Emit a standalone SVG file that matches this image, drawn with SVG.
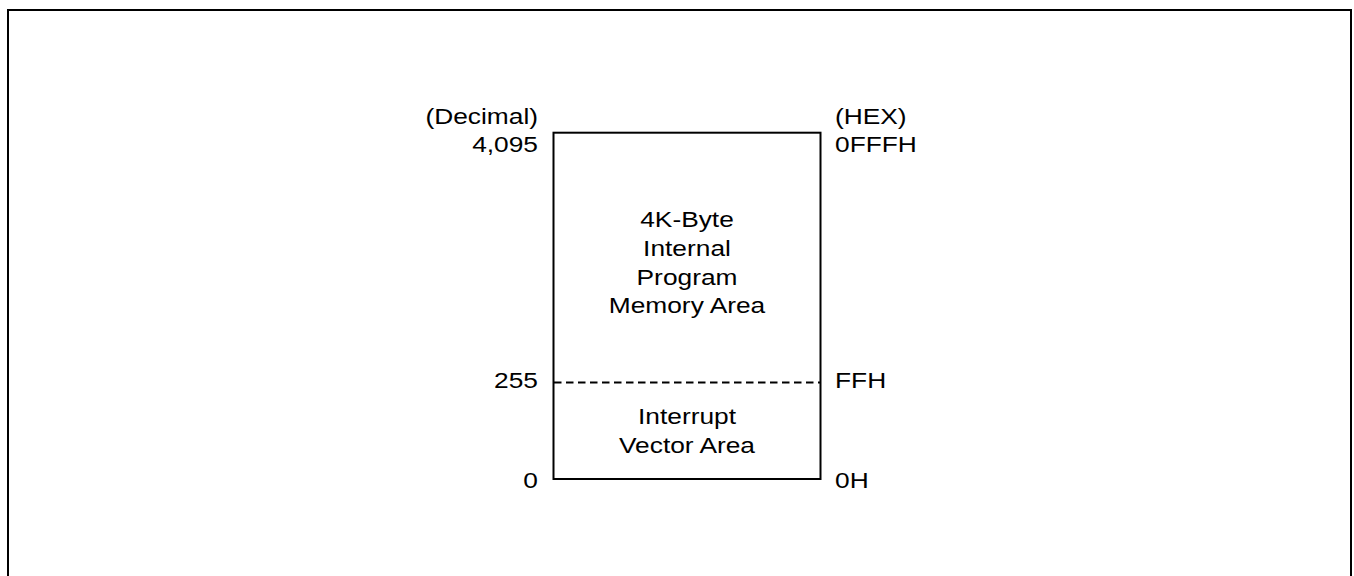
<svg xmlns="http://www.w3.org/2000/svg" width="1354" height="576" viewBox="0 0 1354 576">
<style>
text{font-family:"Liberation Sans",Arial,sans-serif;font-size:22.5px;fill:#000}
.c{text-anchor:middle}
.r{text-anchor:end}
.l{text-anchor:start}
</style>
<rect x="0" y="0" width="1354" height="576" fill="#fff"/>
<rect x="8" y="10" width="1343" height="600" fill="none" stroke="#000" stroke-width="2"/>
<g id="memory">
<rect x="553.5" y="132.7" width="267" height="346.3" fill="none" stroke="#000" stroke-width="2"/>
</g>
<g id="connectors">
<line x1="554" y1="382.5" x2="820" y2="382.5" stroke="#000" stroke-width="2" stroke-dasharray="7.5 4.5"/>
</g>
<g id="program-area">
<text class="c" transform="translate(687,227.3) scale(1.17,1)">4K-Byte</text>
<text class="c" transform="translate(687,256.3) scale(1.17,1)">Internal</text>
<text class="c" transform="translate(687,285) scale(1.17,1)">Program</text>
<text class="c" transform="translate(687,313.3) scale(1.17,1)">Memory Area</text>
</g>
<g id="vector-area">
<text class="c" transform="translate(687,424) scale(1.17,1)">Interrupt</text>
<text class="c" transform="translate(687,453) scale(1.17,1)">Vector Area</text>
</g>
<g id="decimal-labels">
<text class="r" transform="translate(538,124) scale(1.17,1)">(Decimal)</text>
<text class="r" transform="translate(538,152.3) scale(1.17,1)">4,095</text>
<text class="r" transform="translate(538,388) scale(1.17,1)">255</text>
<text class="r" transform="translate(538,488) scale(1.17,1)">0</text>
</g>
<g id="hex-labels">
<text class="l" transform="translate(835,124) scale(1.17,1)">(HEX)</text>
<text class="l" transform="translate(835,152.3) scale(1.17,1)">0FFFH</text>
<text class="l" transform="translate(835,388) scale(1.17,1)">FFH</text>
<text class="l" transform="translate(835,488) scale(1.17,1)">0H</text>
</g>
</svg>
